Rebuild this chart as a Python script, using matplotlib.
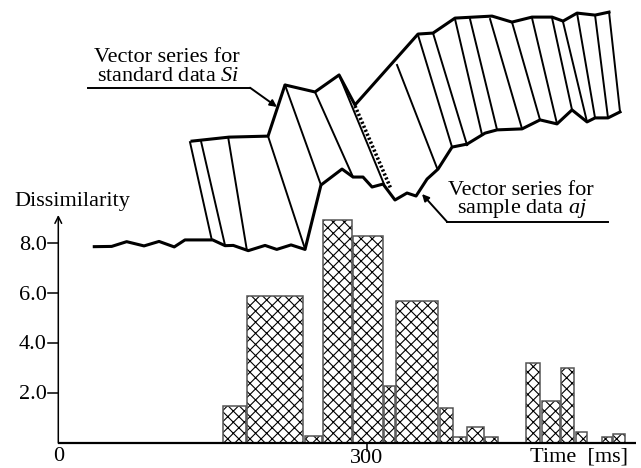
import matplotlib.pyplot as plt
import numpy as np

plt.rcParams['font.family'] = ['Liberation Serif', 'DejaVu Serif']
plt.rcParams['mathtext.fontset'] = 'custom'
plt.rcParams['mathtext.it'] = 'Liberation Serif:italic'
plt.rcParams['mathtext.rm'] = 'Liberation Serif'
plt.rcParams['hatch.linewidth'] = 0.8

# dissimilarity of each matched segment (time in ms)
seg_start = [160.5, 183.3, 240.0, 257.2, 287.0, 316.8, 328.6, 371.3, 384.3,
             397.3, 415.1, 454.7, 470.8, 489.0, 503.6, 528.6, 540.0]
seg_end = [182.6, 238.3, 256.2, 286.0, 315.6, 327.2, 369.6, 383.7, 396.4,
           414.5, 428.0, 468.6, 488.0, 501.9, 514.6, 539.0, 551.3]
dissim = [1.48, 5.88, 0.30, 8.95, 8.28, 2.29, 5.68, 1.39, 0.25,
          0.63, 0.25, 3.21, 1.68, 3.01, 0.43, 0.25, 0.36]

# vector series for standard data Si
std_t = [130.1, 166.1, 204.0, 220.5, 249.7, 273.1, 288.6, 349.9, 364.5,
         385.9, 421.9, 441.3, 460.8, 480.3, 491.0, 504.6, 522.1, 535.7]
std_v = [12.10, 12.26, 12.30, 14.35, 14.07, 14.75, 13.55, 16.39, 16.43,
         17.03, 17.11, 16.87, 17.07, 17.07, 16.91, 17.23, 17.15, 17.27]

# vector series for sample data aj
smp_t = [35.0, 51.9, 66.5, 83.4, 98.0, 112.8, 123.2, 150.2, 162.2, 170.2,
         184.8, 201.1, 212.5, 226.4, 240.0, 255.5, 276.0, 286.7, 296.4,
         305.2, 315.9, 327.5, 339.2, 348.0, 358.7, 369.4, 383.0, 397.6,
         415.1, 426.8, 451.1, 468.6, 485.1, 499.7, 514.3, 522.1, 534.7, 546.4]
smp_v = [7.87, 7.88, 8.07, 7.90, 8.08, 7.86, 8.14, 8.14, 7.91, 7.92,
         7.71, 7.92, 7.76, 7.94, 7.76, 10.34, 10.98, 10.66, 10.66,
         10.26, 10.38, 9.74, 10.02, 9.90, 10.58, 10.98, 11.86, 11.98,
         12.42, 12.55, 12.59, 12.95, 12.79, 13.35, 12.87, 13.03, 13.03, 13.27]

# matching lines  Si -> aj
link_t0 = [128.1, 138.8, 165.4, 204.0, 220.5, 249.7, 273.1, 329.5, 349.9,
           364.5, 385.9, 400.5, 420.0, 441.3, 460.8, 480.3, 491.0, 504.6,
           522.1, 535.7]
link_v0 = [12.06, 12.10, 12.21, 12.30, 14.35, 14.07, 14.75, 15.15, 16.35,
           16.43, 16.99, 16.99, 16.99, 16.87, 17.03, 17.03, 16.87, 17.23,
           17.15, 17.27]
link_t1 = [149.2, 162.2, 183.3, 240.0, 255.5, 286.7, 316.8, 368.4, 383.0,
           397.6, 412.2, 426.8, 451.1, 468.6, 485.1, 499.7, 514.3, 522.1,
           534.7, 546.4]
link_v1 = [8.16, 7.92, 7.76, 7.78, 10.34, 10.66, 10.38, 11.02, 11.86,
           11.94, 12.35, 12.55, 12.59, 12.95, 12.79, 13.35, 12.87, 13.03,
           13.03, 13.27]
# dense (dotted) matching run
dense_t = [288.6, 323.6]
dense_v = [13.51, 10.18]

y_ticks = [2, 4, 6, 8]
y_labels = ['2.0', '4.0', '6.0', '8.0']

fig = plt.figure(figsize=(6.41, 4.68), dpi=100)
ax = fig.add_axes([0, 0, 1, 1])
ax.set_xlim(-56.7, 566.8)
ax.set_ylim(-1.0, 17.755)
ax.axis('off')

# bars
w = np.array(seg_end) - np.array(seg_start)
ax.bar(seg_start, dissim, width=w, align='edge', color='white',
       edgecolor='black', hatch='xxx', linewidth=0)
ax.bar(seg_start, dissim, width=w, align='edge', fill=False,
       edgecolor='#555555', linewidth=1.1)

# axes
ax.plot([0, 562], [0, 0], color='black', lw=1.6, solid_capstyle='butt')
ax.annotate('', xy=(0, 9.14), xytext=(0, 0),
            arrowprops=dict(arrowstyle='->', color='black', lw=1.1,
                            mutation_scale=12, shrinkA=0, shrinkB=0))
for v, lab in zip(y_ticks, y_labels):
    ax.plot([-10, 0], [v, v], color='black', lw=1.1)
    ax.text(-11.3, v - 0.25, lab, ha='right', va='baseline', fontsize=16)
ax.plot([300, 300], [0, -0.3], color='black', lw=1.1)
ax.text(0, -0.55, '0', ha='center', va='center', fontsize=16)
ax.text(300, -0.6, '300', ha='center', va='center', fontsize=16)
ax.text(554.5, -0.56, 'Time  [ms]', ha='right', va='center', fontsize=16)
ax.text(-43.1, 9.67, 'Dissimilarity', ha='left', va='center', fontsize=16)

# vector series and matching
ax.plot(std_t, std_v, color='black', lw=2.2)
ax.plot(smp_t, smp_v, color='black', lw=2.2)
for t0, v0, t1, v1 in zip(link_t0, link_v0, link_t1, link_v1):
    ax.plot([t0, t1], [v0, v1], color='black', lw=1.4)
ax.plot(dense_t, dense_v, color='black', lw=2.6, linestyle=(0, (0.6, 0.6)))

# labels with leaders
ax.text(105.7, 15.28, 'Vector series for', ha='center', va='baseline', fontsize=16)
ax.text(107.0, 14.51, 'standard data $Si$', ha='center', va='baseline', fontsize=16)
ax.plot([29.0, 186.5], [14.24, 14.24], color='black', lw=1.4)
ax.annotate('', xy=(212.7, 13.47), xytext=(186.5, 14.24),
            arrowprops=dict(arrowstyle='-|>', color='black', lw=1.4,
                            mutation_scale=10, shrinkA=0, shrinkB=0))

ax.text(450.1, 9.96, 'Vector series for', ha='center', va='baseline', fontsize=16)
ax.text(451.5, 9.20, 'sample data $aj$', ha='center', va='baseline', fontsize=16)
ax.plot([378.1, 534.7], [8.87, 8.87], color='black', lw=1.4)
ax.annotate('', xy=(353.8, 9.98), xytext=(378.1, 8.87),
            arrowprops=dict(arrowstyle='-|>', color='black', lw=1.4,
                            mutation_scale=10, shrinkA=0, shrinkB=0))

fig.savefig('out.png', dpi=100)
